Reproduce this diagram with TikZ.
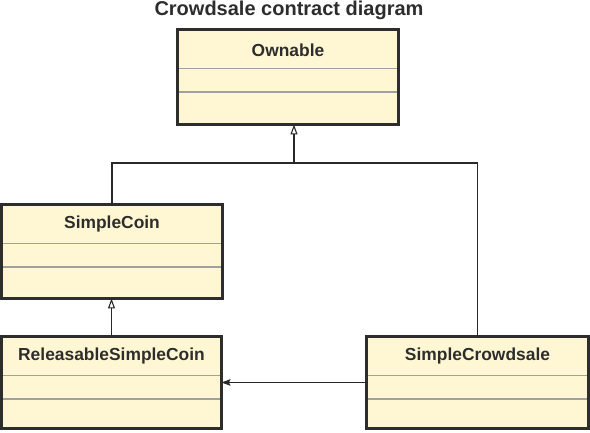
\documentclass[tikz,border=0pt]{standalone}
\usepackage{fontspec}
\setmainfont{Liberation Sans}
\usetikzlibrary{arrows.meta}

\definecolor{classfill}{RGB}{255,247,212}
\definecolor{classline}{RGB}{45,45,45}
\definecolor{compline}{RGB}{160,160,160}
\definecolor{wire}{RGB}{40,40,40}

\tikzset{
  classbox/.style={draw=classline, line width=3pt, fill=classfill, rectangle,
    inner sep=0pt, outer sep=0pt},
  classname/.style={font=\fontsize{17.4}{20}\selectfont\bfseries, text=classline,
    inner sep=0pt},
  compart/.style={draw=compline, line width=1.3pt},
  generalize/.style={draw=wire, line width=1.1pt, -{Triangle[open,length=10pt,width=7pt]}},
  assoc/.style={draw=wire, line width=1.1pt, -{Stealth[length=9pt,width=6.5pt,inset=1.5pt]}},
  wireline/.style={draw=wire, line width=1.1pt}
}

\begin{document}
\begin{tikzpicture}[x=1pt, y=-1pt]
\useasboundingbox (0,0) rectangle (590,433);

\node[font=\fontsize{20}{24}\selectfont\bfseries, text=classline, inner sep=0pt] (title) at (289,10) {Crowdsale contract diagram};

% classes
\node[classbox, minimum width=221pt, minimum height=95pt] (own) at (288,77) {};
\node[classname] (own-name) at ([yshift=-21pt]own.north) {Ownable};

\node[classbox, minimum width=221pt, minimum height=94pt] (coin) at (112,251.5) {};
\node[classname] (coin-name) at ([yshift=-20pt]coin.north) {SimpleCoin};

\node[classbox, minimum width=220pt, minimum height=92pt] (relcoin) at (111.5,382.5) {};
\node[classname] (relcoin-name) at ([yshift=-20pt]relcoin.north) {ReleasableSimpleCoin};

\node[classbox, minimum width=222pt, minimum height=92pt] (sale) at (477.5,382.5) {};
\node[classname] (sale-name) at ([yshift=-20pt]sale.north) {SimpleCrowdsale};

% compartments
\foreach \c in {own,coin,relcoin,sale} {
  \draw[compart] ([yshift=-39pt]\c.north west) -- ([yshift=-39pt]\c.north east);
  \draw[compart] ([yshift=-62.5pt]\c.north west) -- ([yshift=-62.5pt]\c.north east);
  \draw[classbox, fill=none] (\c.north west) rectangle (\c.south east);
}

% relations
\coordinate (join) at (294,163);
\draw[generalize] (coin.north) |- (join) -- (join |- own.south);
\draw[wireline] (sale.north) |- (join);
\draw[generalize] (relcoin.north) -- (relcoin.north |- coin.south);
\draw[assoc] (sale.west) -- (relcoin.east);

\end{tikzpicture}
\end{document}
